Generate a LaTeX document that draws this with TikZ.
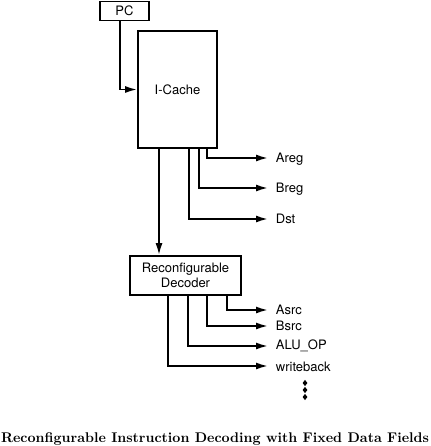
\documentclass[tikz,border=0pt]{standalone}
\usepackage{fontspec}
\usepackage{graphicx}
\newfontfamily\hv{TeX Gyre Heros}
\usetikzlibrary{arrows.meta,shapes.geometric}
\begin{document}
\begin{tikzpicture}[x=1pt,y=-1pt, line width=1.8pt,
  box/.style={draw, line width=1.8pt, inner sep=0pt, align=center, font=\hv\fontsize{13}{15}\selectfont},
  lbl/.style={anchor=west, inner sep=0pt, font=\hv\fontsize{13}{15}\selectfont},
  arr/.style={-{Latex[length=12pt,width=7pt]}},
  dotd/.style={diamond, fill, draw=none, inner sep=0pt, minimum width=5.5pt, minimum height=7pt}]
\useasboundingbox (0,0) rectangle (430,446);
\node[box, minimum width=49pt, minimum height=19pt] (pc) at (124.5,11) {PC};
\node[box, minimum width=79pt, minimum height=117pt] (ic) at (177.5,89.5) {I-Cache};
\node[box, minimum width=111pt, minimum height=39pt] (dec) at (185.5,275.5) {Reconfigurable\\Decoder};
% PC to I-Cache
\draw[arr] ([xshift=-4.5pt]pc.south) |- (ic.west);
% I-Cache outputs
\coordinate (eareg) at (268,158);
\coordinate (ebreg) at (268,188);
\coordinate (edst) at (268,219);
\node[lbl] (areg) at ([xshift=7pt,yshift=-1pt]eareg) {Areg};
\node[lbl] (breg) at ([xshift=7pt,yshift=-1pt]ebreg) {Breg};
\node[lbl] (dst) at ([xshift=7pt]edst) {Dst};
\draw[arr] ([xshift=29.5pt]ic.south) |- (eareg);
\draw[arr] ([xshift=21.5pt]ic.south) |- (ebreg);
\draw[arr] ([xshift=11.5pt]ic.south) |- (edst);
\draw[arr] ([xshift=-18.5pt]ic.south) -- ([xshift=-18.5pt]ic.south |- dec.north);
% Decoder outputs
\coordinate (easrc) at (268,310);
\coordinate (ebsrc) at (268,326);
\coordinate (ealu) at (268,346);
\coordinate (ewb) at (268,366);
\node[lbl] (asrc) at ([xshift=7pt]easrc) {Asrc};
\node[lbl] (bsrc) at ([xshift=7pt]ebsrc) {Bsrc};
\node[lbl] (alu) at ([xshift=7pt]ealu) {ALU\_OP};
\node[lbl] (wb) at ([xshift=7pt,yshift=-1pt]ewb) {writeback};
\draw[arr] ([xshift=41.5pt]dec.south) |- (easrc);
\draw[arr] ([xshift=21.5pt]dec.south) |- (ebsrc);
\draw[arr] ([xshift=2.5pt]dec.south) |- (ealu);
\draw[arr] ([xshift=-17.5pt]dec.south) |- (ewb);
% dots
\node[dotd] (d1) at (305,383) {};
\node[dotd] (d2) at (305,390) {};
\node[dotd] (d3) at (305,397) {};
% caption
\node[anchor=base, inner sep=0pt] (cap) at (215,442) {\resizebox{428pt}{!}{\bfseries Reconfigurable Instruction Decoding with Fixed Data Fields}};
\end{tikzpicture}
\end{document}
